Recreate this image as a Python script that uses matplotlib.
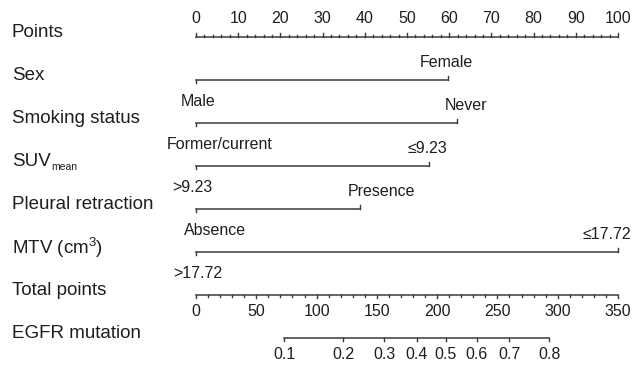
import matplotlib
matplotlib.use("Agg")
import matplotlib.pyplot as plt
import numpy as np

plt.rcParams["font.family"] = ["Liberation Sans", "DejaVu Sans"]
plt.rcParams["mathtext.fontset"] = "custom"
plt.rcParams["mathtext.rm"] = "Liberation Sans"
plt.rcParams["mathtext.it"] = "Liberation Sans:italic"

# points scale
POINT_MAJOR = [0, 10, 20, 30, 40, 50, 60, 70, 80, 90, 100]
POINT_MINOR = list(range(0, 101, 2))

# predictors: label of level with 0 points, label of level with max points
VARIABLES = ["Sex", "Smoking status", "SUV",
             "Pleural retraction", r"MTV (cm$^{3}$)"]
LOW_LABELS = ["Male", "Former/current", ">9.23", "Absence", ">17.72"]
HIGH_LABELS = ["Female", "Never", "≤9.23", "Presence", "≤17.72"]
HIGH_POINTS = [59.7, 61.9, 55.2, 38.9, 100.0]

# total points scale
TOTAL_MAJOR = [0, 50, 100, 150, 200, 250, 300, 350]
TOTAL_MINOR = list(range(0, 351, 10))
TOTAL_MAX = 350

# EGFR mutation probability vs total points
EGFR_PROB = ["0.1", "0.2", "0.3", "0.4", "0.5", "0.6", "0.7", "0.8"]
EGFR_TOTAL = [73, 122, 156, 183, 207, 233, 260, 293]

# layout (y in pixels, x in points units)
PX = 4.22               # pixels per point
X0 = -196 / PX          # left edge of the figure
ROW_Y = [36.5 + 43 * i for i in range(8)]
LOW_DX = [2, 24, -4, 19, 2]      # label nudges in px
HIGH_DX = [-2, 9, -2, 21, -11]
LC = "#3a3a3a"
TC = "#1e1e1e"
LBL = 13.5
SML = 11.5

fig = plt.figure(figsize=(6.42, 3.65), dpi=100)
ax = fig.add_axes([0, 0, 1, 1])
ax.set_xlim(X0, (642 - 196) / PX)
ax.set_ylim(365, 0)
ax.axis("off")


def row_label(y, text):
    return ax.text(X0 + 12 / PX, y - 4, text, ha="left", va="center",
                   fontsize=LBL, color=TC)


# Points
y = ROW_Y[0]
row_label(y, "Points")
ax.plot([0, 100], [y, y], color=LC, lw=1.1)
for v in POINT_MINOR:
    h = 3.8 if v in POINT_MAJOR else 2.0
    ax.plot([v, v], [y, y - h], color=LC, lw=1.0)
for v in POINT_MAJOR:
    ax.text(v, y - 18, str(v), ha="center", va="center", fontsize=SML, color=TC)

# predictors
for i, name in enumerate(VARIABLES):
    y = ROW_Y[i + 1]
    row_label(y, name)
    if name == "SUV":
        # small subscript, as in the original
        ax.text(X0 + 51 / PX, y + 1, "mean", ha="left", va="center",
                fontsize=7.5, color=TC)
    hp = HIGH_POINTS[i]
    ax.plot([0, hp], [y, y], color=LC, lw=1.1)
    ax.plot([0, 0], [y, y + 3.8], color=LC, lw=1.0)
    ax.plot([hp, hp], [y, y - 3.8], color=LC, lw=1.0)
    ax.text(LOW_DX[i] / PX, y + 22, LOW_LABELS[i], ha="center", va="center",
            fontsize=SML, color=TC)
    ax.text(hp + HIGH_DX[i] / PX, y - 17, HIGH_LABELS[i], ha="center",
            va="center", fontsize=SML, color=TC)

# Total points
y = ROW_Y[6]
row_label(y, "Total points")
scale = 100 / TOTAL_MAX
ax.plot([0, 100], [y, y], color=LC, lw=1.1)
for v in TOTAL_MINOR:
    h = 3.8 if v in TOTAL_MAJOR else 2.0
    ax.plot([v * scale, v * scale], [y, y + h], color=LC, lw=1.0)
for v in TOTAL_MAJOR:
    ax.text(v * scale, y + 17, str(v), ha="center", va="center",
            fontsize=SML, color=TC)

# EGFR mutation
y = ROW_Y[7]
row_label(y, "EGFR mutation")
xs = np.array(EGFR_TOTAL) * scale
ax.plot([xs[0], xs[-1]], [y, y], color=LC, lw=1.1)
for x, lab in zip(xs, EGFR_PROB):
    ax.plot([x, x], [y, y + 3.8], color=LC, lw=1.0)
    ax.text(x, y + 17, lab, ha="center", va="center", fontsize=SML, color=TC)

fig.savefig("out.png", dpi=100)
